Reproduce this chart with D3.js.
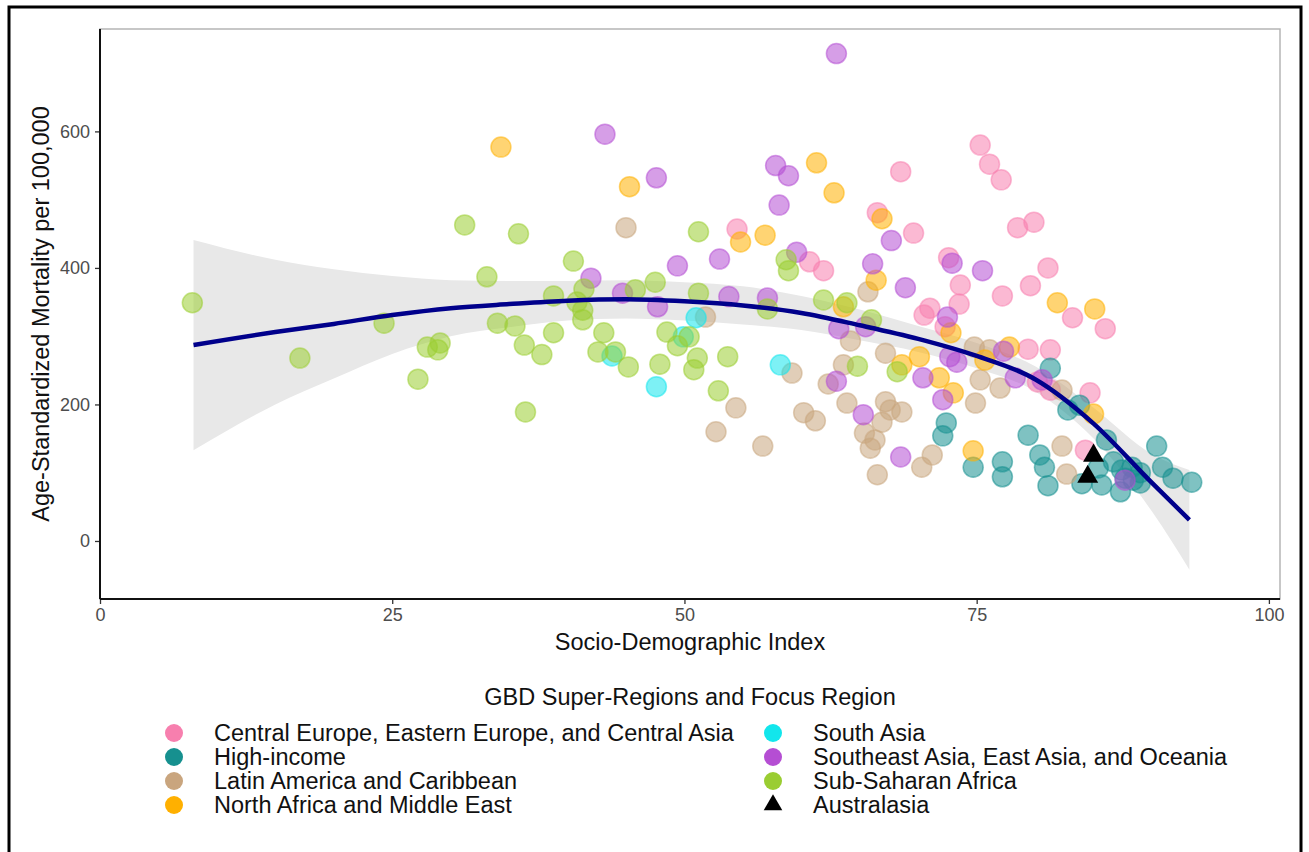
<!DOCTYPE html>
<html>
<head>
<meta charset="utf-8">
<script src="https://cdn.jsdelivr.net/npm/d3@7"></script>
<style>
  body { margin: 0; background: #fff; }
  text { font-family: "Liberation Sans", Arial, sans-serif; }
</style>
</head>
<body>
<script>
// values: [Socio-Demographic Index, mortality per 100,000]
var centralEurope = [[54.5,457],[60.7,409],[61.9,396],[68.5,541],[75.3,580],[76.1,552],[77.1,529],[66.5,481],
  [69.6,451],[78.5,459],[79.9,467],[72.6,415],[81.1,400],[73.6,375],[73.5,347],[77.2,359],[79.6,374],[83.2,327],
  [86.0,311],[71.0,341],[70.5,331],[72.3,314],[81.3,280],[79.4,281],[80.2,233],[81.3,221],[84.7,217],[84.3,133]];
var highIncome = [[72.4,173],[72.1,154],[74.7,108],[77.2,116],[77.2,94],[79.4,155],[80.4,126],[80.8,108],[81.1,81],
  [84.0,84],[86.1,148],[85.7,82],[87.4,104],[88.3,108],[89.0,100],[88.4,89],[87.7,92],[87.3,72],[89.0,85],[90.4,139],
  [90.9,108],[91.8,92],[93.4,86],[81.3,253],[82.8,192],[83.8,199],[86.7,116],[85.4,107]];
var latinAmerica = [[45.0,459],[51.8,328],[54.4,195],[65.7,365],[64.2,293],[67.2,275],[75.3,236],[77.0,224],[74.9,202],
  [67.2,204],[67.6,192],[68.6,189],[65.4,158],[66.3,148],[65.9,136],[66.9,174],[66.5,97],[70.3,108],[71.2,126],
  [82.3,139],[82.7,98],[74.8,284],[76.1,280],[82.3,221],[59.2,246],[52.7,160],[56.7,139],[60.2,188],[61.2,176],
  [63.6,258],[62.3,230],[63.9,202]];
var northAfrica = [[34.3,577],[45.3,519],[54.8,438],[56.9,448],[61.3,554],[62.8,510],[63.6,343],[66.9,472],[66.4,382],
  [81.9,349],[85.1,340],[72.8,305],[68.6,258],[70.1,270],[71.8,239],[73.0,217],[77.8,284],[75.7,265],[85.0,186],[74.7,132]];
var southAsia = [[43.8,271],[47.6,226],[49.9,299],[51.0,327],[58.2,258]];
var southeastAsia = [[43.2,596],[47.6,532],[63.0,714],[57.8,550],[58.9,535],[58.1,492],[59.6,423],[53.0,413],[49.4,403],
  [42.0,385],[44.7,363],[47.7,343],[53.8,358],[57.1,356],[67.7,440],[66.1,406],[68.9,371],[72.9,407],[75.5,396],
  [72.5,328],[63.2,311],[65.5,314],[63.0,234],[65.3,185],[68.5,123],[70.4,239],[72.1,207],[72.7,270],[73.3,262],
  [77.3,278],[78.3,239],[80.6,236],[87.7,89]];
var subSaharan = [[7.9,349],[17.1,268],[24.3,319],[27.2,237],[28.0,284],[29.1,290],[28.9,280],[31.2,463],[35.8,450],
  [33.1,387],[40.5,410],[38.8,359],[41.4,369],[40.8,350],[41.3,338],[41.3,324],[34.0,319],[35.5,315],[36.3,287],
  [38.8,305],[37.8,273],[43.1,305],[42.6,277],[44.1,277],[45.2,255],[45.8,368],[47.5,379],[47.9,259],[48.5,306],
  [49.4,286],[50.4,299],[51.2,453],[51.2,363],[51.1,268],[50.8,251],[53.7,270],[52.9,220],[36.4,189],[57.1,340],
  [58.7,412],[58.9,396],[61.9,353],[63.9,349],[66.0,324],[64.8,256],[68.2,248]];
var australasia = [[85.0,125],[84.5,94]];

var regionNames = ["Central Europe, Eastern Europe, and Central Asia", "High-income", "Latin America and Caribbean",
  "North Africa and Middle East", "South Asia", "Southeast Asia, East Asia, and Oceania", "Sub-Saharan Africa", "Australasia"];
var regionColors = ["#F77FAE", "#16908F", "#C9A57E", "#FFB000", "#12E6EC", "#B54ED3", "#9ACD32", "#000000"];
var regionPoints = [centralEurope, highIncome, latinAmerica, northAfrica, southAsia, southeastAsia, subSaharan];

// smoother
var smoothX = [8, 15, 20, 25, 30, 35, 40, 45, 50, 55, 60, 65, 70, 75, 80, 85, 90, 93.2];
var smoothFit = [287, 306, 318, 331, 341, 347, 352, 354, 351, 345, 334, 316, 296, 271, 237, 172, 85, 31];
var smoothUpper = [441, 412, 398, 388, 382, 381, 381, 382, 379, 373, 359, 339, 315, 290, 256, 195, 127, 104];
var smoothLower = [133, 200, 238, 274, 300, 313, 323, 326, 323, 317, 309, 294, 277, 253, 219, 150, 43, -42];

var xTicks = [0, 25, 50, 75, 100];
var yTicks = [0, 200, 400, 600];

var w = 1309, h = 852;
var pLeft = 100, pRight = 1280, pTop = 29, pBottom = 599;

var svg = d3.select("body").append("svg")
  .attr("width", w)
  .attr("height", h);

// outer frame
svg.append("rect")
  .attr("x", 9).attr("y", 7)
  .attr("width", 1292).attr("height", 860)
  .attr("fill", "none")
  .attr("stroke", "#000")
  .attr("stroke-width", 3);

var x = d3.scaleLinear().domain([0, 100.95]).range([pLeft, pRight]);
var y = d3.scaleLinear().domain([-85, 750]).range([pBottom, pTop]);

// panel border
svg.append("rect")
  .attr("x", pLeft).attr("y", pTop)
  .attr("width", pRight - pLeft).attr("height", pBottom - pTop)
  .attr("fill", "#fff")
  .attr("stroke", "#b5b5b5")
  .attr("stroke-width", 1.5);

// confidence band
var band = d3.area()
  .x(function(d, i) { return x(smoothX[i]); })
  .y0(function(d, i) { return y(smoothLower[i]); })
  .y1(function(d, i) { return y(smoothUpper[i]); })
  .curve(d3.curveMonotoneX);

svg.append("path")
  .datum(smoothX)
  .attr("d", band)
  .attr("fill", "#e8e8e8");

// points
regionPoints.forEach(function(pts, k) {
  svg.append("g")
    .selectAll("circle")
    .data(pts)
    .enter()
    .append("circle")
    .attr("cx", function(d) { return x(d[0]); })
    .attr("cy", function(d) { return y(d[1]); })
    .attr("r", 10)
    .attr("fill", regionColors[k])
    .attr("fill-opacity", 0.55)
    .attr("stroke", regionColors[k])
    .attr("stroke-opacity", 0.55)
    .attr("stroke-width", 1.5);
});

// fitted line
var line = d3.line()
  .x(function(d, i) { return x(smoothX[i]); })
  .y(function(d, i) { return y(smoothFit[i]); })
  .curve(d3.curveMonotoneX);

svg.append("path")
  .datum(smoothX)
  .attr("d", line)
  .attr("fill", "none")
  .attr("stroke", "#00008B")
  .attr("stroke-width", 4.5);

// focus region triangles
svg.append("g")
  .selectAll("path")
  .data(australasia)
  .enter()
  .append("path")
  .attr("d", d3.symbol().type(d3.symbolTriangle).size(190))
  .attr("transform", function(d) { return "translate(" + x(d[0]) + "," + y(d[1]) + ")"; })
  .attr("fill", "#000");

// axes
var yAxis = d3.axisLeft(y).tickValues(yTicks).tickSize(5).tickPadding(5);
var yGuide = svg.append("g").attr("transform", "translate(" + pLeft + ",0)").call(yAxis);
yGuide.select(".domain").remove();
yGuide.selectAll("line").attr("stroke", "#333").attr("stroke-width", 1.3);
yGuide.selectAll("text").attr("fill", "#4d4d4d").style("font-size", "18px");

var xAxis = d3.axisBottom(x).tickValues(xTicks).tickSize(5).tickPadding(4);
var xGuide = svg.append("g").attr("transform", "translate(0," + pBottom + ")").call(xAxis);
xGuide.select(".domain").remove();
xGuide.selectAll("line").attr("stroke", "#333").attr("stroke-width", 1.3);
xGuide.selectAll("text").attr("fill", "#4d4d4d").style("font-size", "18px");

svg.append("line")
  .attr("x1", pLeft).attr("x2", pLeft).attr("y1", pTop).attr("y2", pBottom)
  .attr("stroke", "#111").attr("stroke-width", 2);
svg.append("line")
  .attr("x1", pLeft).attr("x2", pRight).attr("y1", pBottom).attr("y2", pBottom)
  .attr("stroke", "#111").attr("stroke-width", 2);

// axis titles
svg.append("text")
  .attr("x", (pLeft + pRight) / 2)
  .attr("y", 650)
  .attr("text-anchor", "middle")
  .style("font-size", "23.5px")
  .attr("fill", "#111")
  .text("Socio-Demographic Index");

svg.append("text")
  .attr("transform", "translate(49," + (pTop + pBottom) / 2 + ") rotate(-90)")
  .attr("text-anchor", "middle")
  .style("font-size", "23.5px")
  .attr("fill", "#111")
  .text("Age-Standardized Mortality per 100,000");

// legend
svg.append("text")
  .attr("x", (pLeft + pRight) / 2)
  .attr("y", 705)
  .attr("text-anchor", "middle")
  .style("font-size", "23.5px")
  .attr("fill", "#111")
  .text("GBD Super-Regions and Focus Region");

var legend = svg.append("g")
  .selectAll("g")
  .data(regionNames)
  .enter()
  .append("g")
  .attr("transform", function(d, i) {
    var col = i < 4 ? 0 : 1;
    return "translate(" + (col ? 773 : 174) + "," + (733 + (i % 4) * 24) + ")";
  });

legend.each(function(d, i) {
  var g = d3.select(this);
  if (i < 7) {
    g.append("circle").attr("r", 9).attr("fill", regionColors[i]);
  } else {
    g.append("path")
      .attr("d", d3.symbol().type(d3.symbolTriangle).size(150))
      .attr("fill", "#000");
  }
  g.append("text")
    .attr("x", 40)
    .attr("y", 8)
    .style("font-size", "23.5px")
    .attr("fill", "#111")
    .text(d);
});
</script>
</body>
</html>
